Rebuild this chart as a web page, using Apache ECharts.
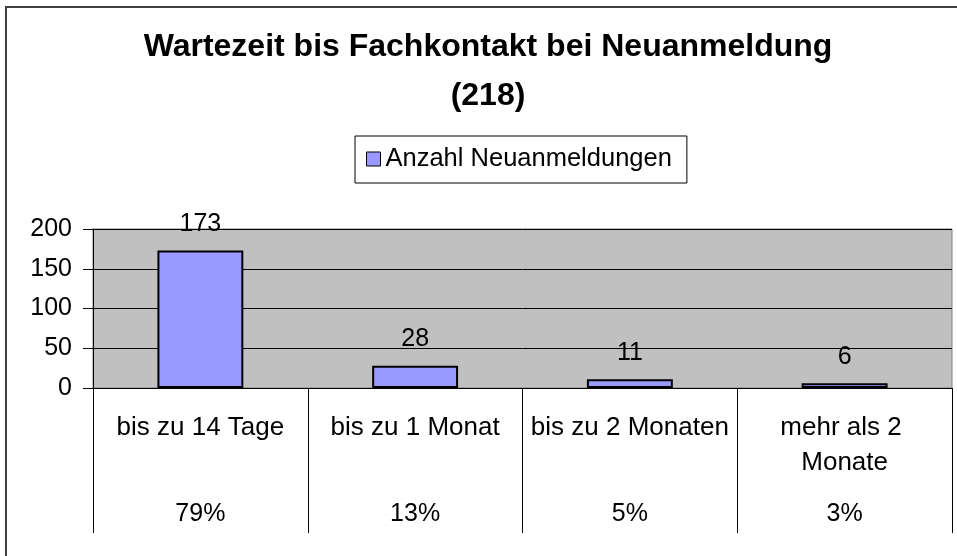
<!DOCTYPE html>
<html>
<head>
<meta charset="utf-8">
<script src="https://cdn.jsdelivr.net/npm/echarts@6/dist/echarts.min.js"></script>
<style>
  html, body { margin: 0; padding: 0; background: #fff; }
  #chart { width: 957px; height: 556px; }
</style>
</head>
<body>
<div id="chart"></div>
<script>
  const categories = ['bis zu 14 Tage', 'bis zu 1 Monat', 'bis zu 2 Monaten', 'mehr als 2 Monate'];
  const counts = [173, 28, 11, 6];
  const shares = ['79%', '13%', '5%', '3%'];
  const yTicks = { min: 0, max: 200, interval: 50 };

  const font = "'Liberation Sans', Arial, sans-serif";

  const options = {
    animation: false,
    textStyle: { fontFamily: font, color: '#000' },
    title: {
      text: 'Wartezeit bis Fachkontakt bei Neuanmeldung\n(218)',
      left: 483,
      textAlign: 'center',
      top: 18,
      textStyle: { fontFamily: font, fontSize: 32, fontWeight: 'bold', color: '#000', lineHeight: 49 }
    },
    legend: {
      left: 355,
      top: 136,
      padding: [10, 15, 11, 11],
      borderColor: '#000',
      borderWidth: 1,
      icon: 'rect',
      itemWidth: 14,
      itemHeight: 14,
      itemGap: 10,
      itemStyle: { borderWidth: 1, borderColor: '#000' },
      textStyle: { fontFamily: font, fontSize: 25.5, color: '#000' },
      data: ['Anzahl Neuanmeldungen']
    },
    graphic: [{
      type: 'rect',
      silent: true,
      shape: { x: 6, y: 7, width: 1000, height: 700 },
      style: { fill: 'none', stroke: '#404040', lineWidth: 2 }
    }],
    grid: {
      left: 93, top: 229, right: 5, bottom: 168,
      show: true,
      backgroundColor: '#c0c0c0',
      borderColor: '#808080',
      borderWidth: 1
    },
    xAxis: [
      {
        type: 'category',
        data: categories,
        axisLine: { lineStyle: { color: '#000', width: 1 } },
        axisTick: { show: true, length: 145, lineStyle: { color: '#000' } },
        axisLabel: {
          interval: 0,
          fontSize: 26,
          color: '#000',
          margin: 22,
          lineHeight: 35,
          width: 206,
          overflow: 'break',
          fontFamily: font
        }
      },
      {
        type: 'category',
        position: 'bottom',
        offset: 107,
        data: shares,
        axisLine: { show: false },
        axisTick: { show: false },
        axisLabel: { interval: 0, fontSize: 25, color: '#000', margin: 7, fontFamily: font }
      }
    ],
    yAxis: {
      type: 'value',
      min: yTicks.min,
      max: yTicks.max,
      interval: yTicks.interval,
      axisLine: { show: true, lineStyle: { color: '#000' } },
      axisTick: { show: true, length: 10, lineStyle: { color: '#000' } },
      axisLabel: { fontSize: 25, color: '#000', margin: 21, fontFamily: font },
      splitLine: { lineStyle: { color: '#000', width: 1 } }
    },
    series: [{
      name: 'Anzahl Neuanmeldungen',
      type: 'bar',
      data: counts,
      barWidth: '40%',
      itemStyle: { color: '#9999ff', borderColor: '#000', borderWidth: 2 },
      label: {
        show: true,
        position: 'top',
        distance: 14,
        fontSize: 25,
        color: '#000',
        fontFamily: font
      }
    }]
  };

  const myChart = echarts.init(document.getElementById('chart'));
  myChart.setOption(options);
</script>
</body>
</html>
